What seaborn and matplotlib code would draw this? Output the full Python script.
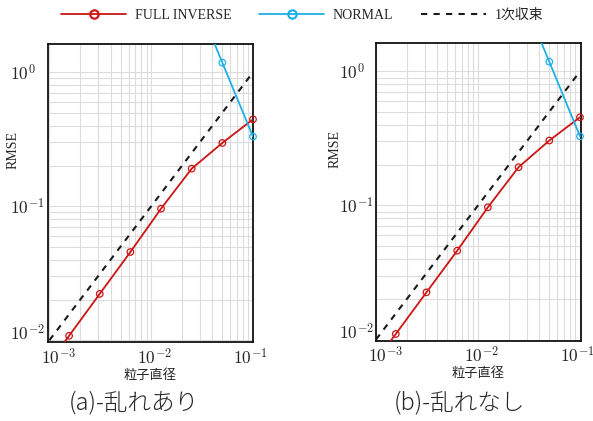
import numpy as np
import pandas as pd
import matplotlib
matplotlib.use("Agg")
import matplotlib.pyplot as plt
import matplotlib.transforms as mtransforms
from matplotlib.ticker import FixedLocator, FixedFormatter, NullFormatter
from matplotlib.lines import Line2D
import seaborn as sns

# ---------------- data ----------------
h = [0.00078125, 0.0015625, 0.003125, 0.00625, 0.0125, 0.025, 0.05, 0.1]
full_inverse_a = [0.0053, 0.0108, 0.0222, 0.0456, 0.0960, 0.191, 0.297, 0.446]
full_inverse_b = [0.0054, 0.0110, 0.0225, 0.0460, 0.0969, 0.193, 0.305, 0.455]
h_normal = [0.025, 0.05, 0.1]
normal_a = [4.2, 1.18, 0.331]
normal_b = [4.2, 1.18, 0.328]
ref_x = [0.001, 0.1]
ref_y = [0.01, 1.0]

series_labels = ["FULL INVERSE", "NORMAL", "1次収束"]
xtick_vals = [1e-3, 1e-2, 1e-1]
xtick_labels = [r"$10^{-3}$", r"$10^{-2}$", r"$10^{-1}$"]
ytick_vals = [1e-2, 1e-1, 1e0]
ytick_labels = [r"$10^{-2}$", r"$10^{-1}$", r"$10^{0}$"]
xlabel = "粒子直径"
ylabel = "RMSE"
captions = ["(a)-乱れあり", "(b)-乱れなし"]

RED = "#cc1414"
BLUE = "#1eb0e8"

sns.set_style("white")
plt.rcParams["font.family"] = ["Liberation Serif", "Noto Sans CJK JP", "DejaVu Sans"]
plt.rcParams["mathtext.fontset"] = "cm"

fig = plt.figure(figsize=(5.93, 4.21), dpi=100)
ax_a = fig.add_axes([48 / 593, 1 - 342.3 / 421, 205 / 593, 298.3 / 421])
ax_b = fig.add_axes([376 / 593, 1 - 340.7 / 421, 205 / 593, 297.4 / 421])

panels = [
    (ax_a, full_inverse_a, normal_a, (0.00097, 0.1), (0.00966, 1.626), 27.5, -0.17),
    (ax_b, full_inverse_b, normal_b, (0.001, 0.1023), (0.0098, 1.62), 26.5, -0.20),
]

for ax, fi, nm, xl, yl, ypad, ylab_x in panels:
    ax.set(xscale="log", yscale="log")
    df_fi = pd.DataFrame({"h": h, "v": fi})
    df_nm = pd.DataFrame({"h": h_normal, "v": nm})
    df_ref = pd.DataFrame({"h": ref_x, "v": ref_y})

    sns.lineplot(data=df_fi, x="h", y="v", ax=ax, color=RED, lw=1.3,
                 label=series_labels[0], legend=False, zorder=3)
    sns.lineplot(data=df_nm, x="h", y="v", ax=ax, color=BLUE, lw=1.3,
                 label=series_labels[1], legend=False, zorder=3)
    sns.lineplot(data=df_ref, x="h", y="v", ax=ax, color="#1a1a1a", lw=1.5,
                 linestyle=(0, (3, 3)), label=series_labels[2], legend=False, zorder=2)

    # markers (only those inside the view), drawn unclipped like the reference
    for df, c in [(df_fi, RED), (df_nm, BLUE)]:
        m = df[(df.h >= xl[0]) & (df.v <= yl[1])]
        sns.scatterplot(data=m, x="h", y="v", ax=ax, marker="o", s=22,
                        facecolor="none", edgecolor=c, linewidth=0.9,
                        clip_on=False, zorder=4, legend=False)

    ax.set_xlim(*xl)
    ax.set_ylim(*yl)

    ax.grid(True, which="both", color="#dcdcdc", lw=0.8)
    ax.set_axisbelow(True)
    for sp in ax.spines.values():
        sp.set_color("#111111")
        sp.set_linewidth(1.3)

    ax.xaxis.set_major_locator(FixedLocator(xtick_vals))
    ax.xaxis.set_major_formatter(FixedFormatter(xtick_labels))
    ax.yaxis.set_major_locator(FixedLocator(ytick_vals))
    ax.yaxis.set_major_formatter(FixedFormatter(ytick_labels))
    ax.xaxis.set_minor_formatter(NullFormatter())
    ax.yaxis.set_minor_formatter(NullFormatter())
    ax.tick_params(which="both", length=0)
    ax.tick_params(axis="x", labelsize=12.5, pad=4)
    ax.tick_params(axis="y", labelsize=12.5, pad=ypad)
    for lab in ax.get_yticklabels():
        lab.set_horizontalalignment("left")

    ax.set_xlabel(xlabel, fontsize=9.5, family=["Noto Sans CJK JP"])
    ax.xaxis.label.set_va("center")
    ax.xaxis.set_label_coords(0.5, -0.111)
    ax.set_ylabel(ylabel, fontsize=10)
    ax.yaxis.label.set_va("center")
    ax.yaxis.set_label_coords(ylab_x, 0.645)

# small offsets of the tick labels, as in the reference
fig.canvas.draw()
for ax in (ax_a, ax_b):
    for lab, dx in zip(ax.get_xticklabels(), [9.5, 3.5, -3]):
        lab.set_transform(lab.get_transform() +
                          mtransforms.ScaledTranslation(dx / 100, 0, fig.dpi_scale_trans))
    ylabs = ax.get_yticklabels()
    ylabs[0].set_transform(ylabs[0].get_transform() +
                           mtransforms.ScaledTranslation(0, 8.5 / 100, fig.dpi_scale_trans))

# captions
for cx, cap in zip([134, 459], captions):
    fig.text(cx / 593, 1 - 403 / 421, cap, ha="center", va="center",
             fontsize=17, family=["Noto Sans CJK JP"], weight="light")

# legend
leg_handles = [
    Line2D([], [], color=RED, lw=1.3, marker="o", markersize=6,
           markerfacecolor="none", markeredgecolor=RED, markeredgewidth=1.6),
    Line2D([], [], color=BLUE, lw=1.3, marker="o", markersize=6,
           markerfacecolor="none", markeredgecolor=BLUE, markeredgewidth=1.6),
    Line2D([], [], color="#1a1a1a", lw=1.5, linestyle=(0, (3, 3))),
]
fig.legend(leg_handles, series_labels, loc="center", bbox_to_anchor=(302 / 593, 1 - 15 / 421),
           ncol=3, frameon=False, handlelength=4.7, handletextpad=0.6,
           columnspacing=2.0, fontsize=10, borderpad=0, borderaxespad=0)

fig.savefig("out.png", dpi=100)
